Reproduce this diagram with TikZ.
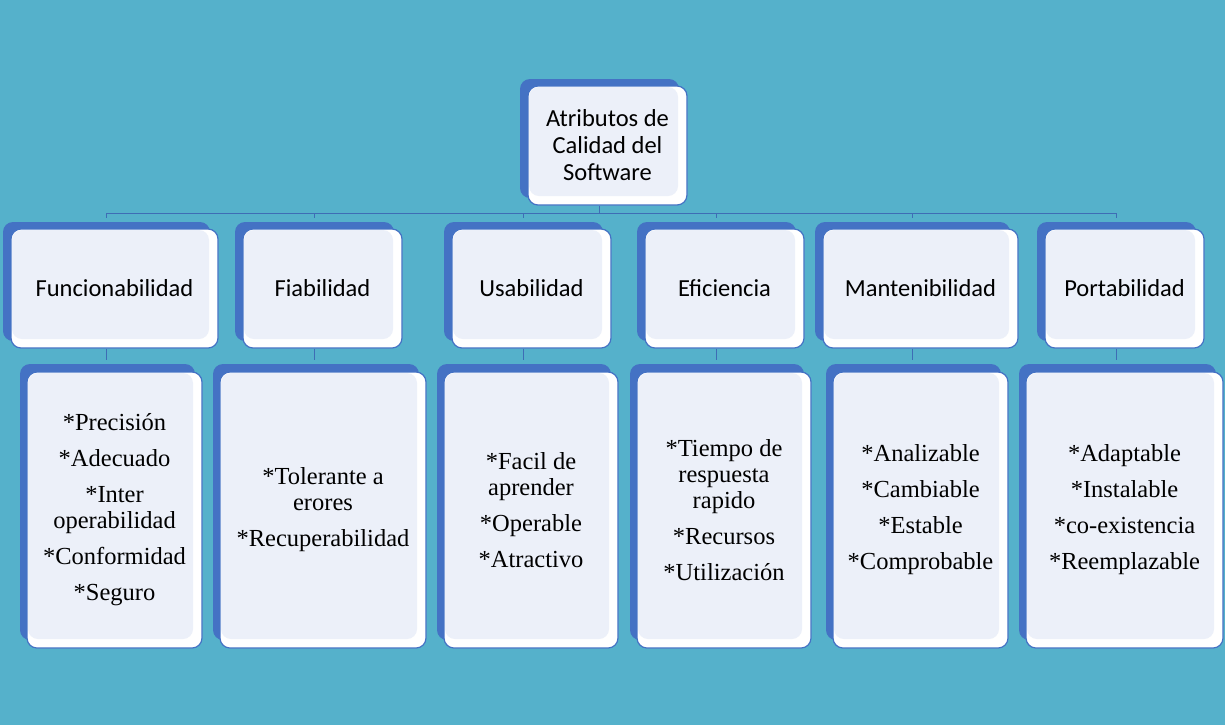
\documentclass[tikz,border=0pt]{standalone}
\usepackage{fontspec}
\setmainfont{Liberation Serif}
\newfontfamily\calib{Carlito}
\usetikzlibrary{fit}
\definecolor{bg}{HTML}{55B1CB}
\definecolor{bblue}{HTML}{4472C4}
\definecolor{lfill}{HTML}{ECF0F9}
\definecolor{conncol}{HTML}{3E6DB5}
\tikzset{
 backbox/.style={fill=bblue, rounded corners=5pt, inner sep=0pt, draw=none},
 frontbox/.style={fill=white, draw=bblue, line width=0.6pt, rounded corners=5pt, inner sep=0pt},
 innerbox/.style={fill=lfill, rounded corners=5pt, inner sep=0pt, draw=none},
 sanslabel/.style={font=\calib\fontsize{12.25}{13.5}\selectfont, align=center, inner sep=0pt},
 seriflabel/.style={font=\fontsize{12.25}{13}\selectfont, align=center, inner sep=0pt},
 connector/.style={draw=conncol, line width=0.5pt},
}
\newcommand\mkbox[9]{%
 \node[backbox, fit={(#2-#6,#3-#7) (#4-#6,#5-#7)}] (#1b) {};
 \node[frontbox, fit={(#2,#3) (#4,#5)}] (#1) {};
 \node[innerbox, fit={(#2+1,#3+1) (#4-9,#5-9)}] (#1i) {};
 \node[#8] (#1t) at (#1.center) {#9};
}
\begin{document}
\begin{tikzpicture}[x=0.5pt,y=-0.5pt]
\fill[bg] (0,0) rectangle (1225,725);
\useasboundingbox (0,0) rectangle (1225,725);
\coordinate (bus) at (0,213);
% top box
\mkbox{root}{528}{86}{687}{205}{8}{7}{sanslabel}{Atributos de\\Calidad del\\Software}
% level 2
\mkbox{fun}{11}{229}{218}{348}{8}{7}{sanslabel}{Funcionabilidad}
\mkbox{fia}{243}{229}{402}{348}{8}{7}{sanslabel}{Fiabilidad}
\mkbox{usa}{452}{229}{611}{348}{8}{7}{sanslabel}{Usabilidad}
\mkbox{efi}{645}{229}{804}{348}{8}{7}{sanslabel}{Eficiencia}
\mkbox{man}{823}{229}{1018}{348}{8}{7}{sanslabel}{Mantenibilidad}
\mkbox{por}{1045}{229}{1204}{348}{8}{7}{sanslabel}{Portabilidad}
% level 3
\mkbox{funL}{27}{372}{202}{648}{7}{8}{seriflabel}{*Precisión\\[5pt]*Adecuado\\[5pt]*Inter\\operabilidad\\[5pt]*Conformidad\\[5pt]*Seguro}
\mkbox{fiaL}{220}{372}{426}{648}{7}{8}{seriflabel}{*Tolerante a\\erores\\[5pt]*Recuperabilidad}
\mkbox{usaL}{444}{372}{618}{648}{7}{8}{seriflabel}{*Facil de\\aprender\\[5pt]*Operable\\[5pt]*Atractivo}
\mkbox{efiL}{637}{372}{811}{648}{7}{8}{seriflabel}{*Tiempo de\\respuesta\\rapido\\[5pt]*Recursos\\[5pt]*Utilización}
\mkbox{manL}{833}{372}{1008}{648}{7}{8}{seriflabel}{*Analizable\\[5pt]*Cambiable\\[5pt]*Estable\\[5pt]*Comprobable}
\mkbox{porL}{1026}{372}{1223}{648}{7}{8}{seriflabel}{*Adaptable\\[5pt]*Instalable\\[5pt]*co-existencia\\[5pt]*Reemplazable}
% connectors
\draw[connector] (rootb.center |- root.south) -- (rootb.center |- bus);
\draw[connector] (funb.center |- bus) -- (porb.center |- bus);
\foreach \n in {fun,fia,usa,efi,man,por}{
  \draw[connector, shorten >=2pt] (\n b.center |- bus) -- (\n b.north);
  \draw[connector, shorten >=2pt] (\n b.center |- \n.south) -- (\n b.center |- \n Lb.north);
}
\end{tikzpicture}
\end{document}
